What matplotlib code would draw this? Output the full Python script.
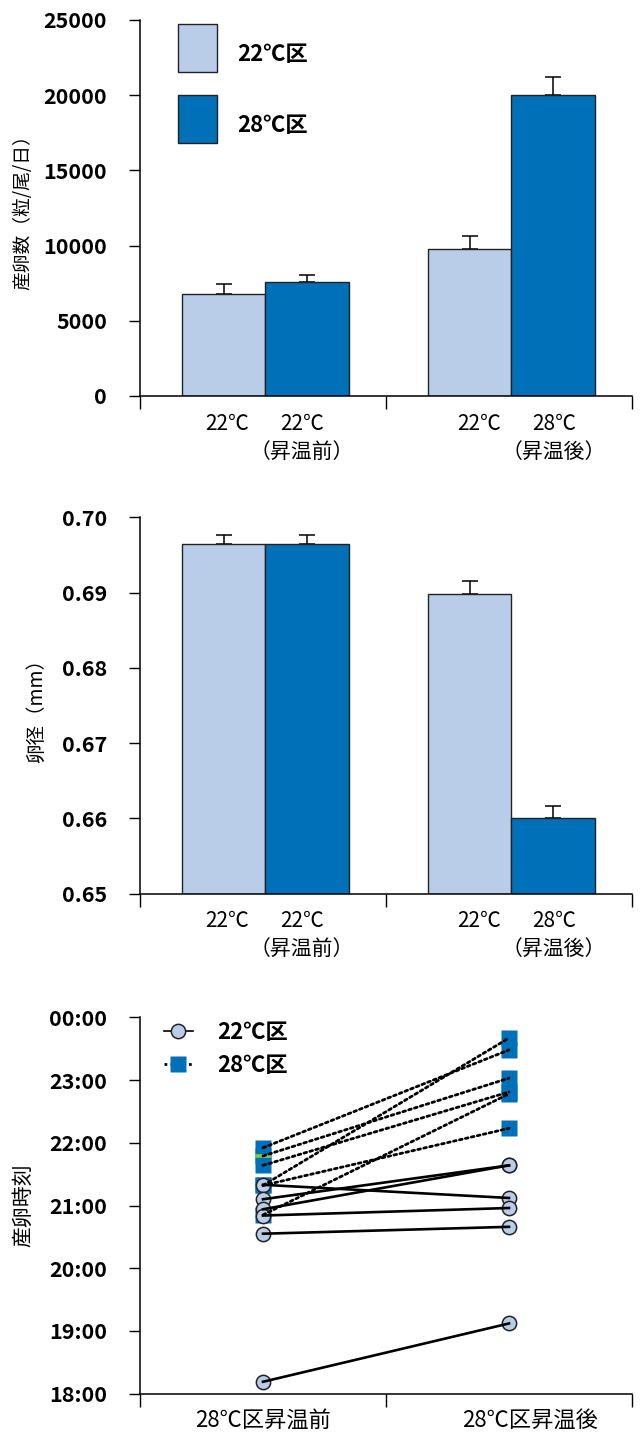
import numpy as np
import matplotlib
matplotlib.use("Agg")
import matplotlib.pyplot as plt
import matplotlib.transforms as mtransforms
from matplotlib.patches import Patch
from matplotlib.lines import Line2D
from matplotlib.legend_handler import HandlerLine2D
from matplotlib.ticker import FuncFormatter

plt.rcParams['font.family'] = ['Noto Sans CJK JP', 'DejaVu Sans']

# ---- data ----
groups = ['22℃区', '28℃区']
bar_labels_top = ['22℃', '22℃', '22℃', '28℃']
period_labels = ['（昇温前）', '（昇温後）']

eggs_22 = [6780, 9750]
eggs_22_err = [665, 886]
eggs_28 = [7600, 20000]
eggs_28_err = [465, 1180]

diam_22 = [0.6965, 0.6898]
diam_22_err = [0.0012, 0.0018]
diam_28 = [0.6965, 0.6600]
diam_28_err = [0.0011, 0.0017]

time_labels = ['28℃区昇温前', '28℃区昇温後']
# spawning time in hours (24 = midnight)
t22_before = [21.33, 21.10, 20.94, 20.84, 20.55, 18.19]
t22_after = [21.12, 21.64, 21.64, 20.96, 20.66, 19.12]
t28_before = [21.92, 21.79, 21.64, 21.32, 21.32, 20.85]
t28_after = [23.48, 23.03, 22.81, 23.67, 22.23, 22.78]
t28_flag = 21.79

LIGHT = '#b9cde8'
DARK = '#0070b9'
EDGE = '#222222'

W, H = 644, 1432
fig = plt.figure(figsize=(W / 100, H / 100), dpi=100)


def axes_px(top, bottom, left=140, right=632):
    return fig.add_axes([left / W, 1 - bottom / H, (right - left) / W, (bottom - top) / H])


def style_axes(ax):
    for s in ['top', 'right']:
        ax.spines[s].set_visible(False)
    ax.spines['left'].set_linewidth(1.1)
    ax.spines['bottom'].set_linewidth(1.1)
    ax.set_xlim(0, 2)
    ax.set_xticks([0, 1, 2])
    ax.set_xticklabels([])
    ax.tick_params(axis='x', direction='out', length=9.6, width=1.0)
    ax.tick_params(axis='y', direction='out', length=7.7, width=1.0, pad=16,
                   labelsize=15.5)
    for lab in ax.get_yticklabels():
        lab.set_fontweight('bold')


def set_ylabel(ax, text, size, x_px):
    ax.set_ylabel(text, fontsize=size)
    ax.yaxis.label.set_va('center')
    ax.yaxis.set_label_coords(-(140 - x_px) / 492, 0.5)


def under_label(ax, x, text, off_pt, size=15):
    ax.annotate(text, xy=(x, 0), xycoords=('data', 'axes fraction'),
                xytext=(0, -off_pt), textcoords='offset points',
                ha='center', va='center', fontsize=size)


def shift_legend_texts(leg, dy_pt):
    for t in leg.get_texts():
        t.set_fontweight('bold')
        t.set_transform(t.get_transform() +
                        mtransforms.ScaledTranslation(0, dy_pt / 72, fig.dpi_scale_trans))


bar_w = 0.34
pos_light = np.array([0.34, 1.34])
pos_dark = pos_light + bar_w
label_x = [0.354, 0.659, 1.38, 1.683]


def bar_panel(ax, v22, e22, v28, e28, base=0.0):
    kw = dict(width=bar_w, edgecolor=EDGE, linewidth=1.0, zorder=2)
    ekw = dict(fmt='none', ecolor='black', elinewidth=1.1, capsize=5.6,
               capthick=1.1, zorder=1)
    ax.bar(pos_light, np.array(v22) - base, bottom=base, color=LIGHT, **kw)
    ax.bar(pos_dark, np.array(v28) - base, bottom=base, color=DARK, **kw)
    ax.errorbar(pos_light, v22, yerr=[np.zeros(2), e22], **ekw)
    ax.errorbar(pos_dark, v28, yerr=[np.zeros(2), e28], **ekw)
    for x, t in zip(label_x, bar_labels_top):
        under_label(ax, x, t, 20)
    under_label(ax, label_x[1], period_labels[0], 40)
    under_label(ax, label_x[3], period_labels[1], 40)


# ---- panel 1: egg count ----
ax1 = axes_px(20, 396)
ax1.set_ylim(0, 25000)
ax1.set_yticks(np.arange(0, 25001, 5000))
style_axes(ax1)
bar_panel(ax1, eggs_22, eggs_22_err, eggs_28, eggs_28_err)
set_ylabel(ax1, '産卵数（粒/尾/日）', 13.5, 23)
handles = [Patch(facecolor=LIGHT, edgecolor=EDGE, linewidth=1.0),
           Patch(facecolor=DARK, edgecolor=EDGE, linewidth=1.0)]
leg1 = ax1.legend(handles, groups, loc='upper left', bbox_to_anchor=(38 / 492, 0.99),
                  frameon=False, fontsize=16, handlelength=1.76, handleheight=2.95,
                  labelspacing=1.04, handletextpad=0.9, borderpad=0, borderaxespad=0)
shift_legend_texts(leg1, -4.5)

# ---- panel 2: egg diameter ----
ax2 = axes_px(517.3, 893.7)
ax2.set_ylim(0.65, 0.70)
ax2.set_yticks(np.arange(0.65, 0.7001, 0.01))
ax2.yaxis.set_major_formatter(FuncFormatter(lambda v, p: f'{v:.2f}'))
style_axes(ax2)
bar_panel(ax2, diam_22, diam_22_err, diam_28, diam_28_err, base=0.65)
set_ylabel(ax2, '卵径（mm）', 14, 37)

# ---- panel 3: spawning time ----
ax3 = axes_px(1017.3, 1393.7)
ax3.set_ylim(18, 24)
ax3.set_yticks(np.arange(18, 24.01, 1))
ax3.yaxis.set_major_formatter(FuncFormatter(lambda v, p: f'{int(round(v)) % 24:02d}:00'))
style_axes(ax3)
xb, xa = 0.5, 1.5
ax3.plot([xb] * len(t28_before), t28_before, 's', color=DARK, ms=11.5, mec='none', zorder=2)
ax3.plot([xa] * len(t28_after), t28_after, 's', color=DARK, ms=11.5, mec='none', zorder=2)
ax3.plot([xb], [t28_flag], '_', color='#8cc63f', ms=11.5, mew=2.6, zorder=2.5)
ax3.plot([xb] * len(t22_before), t22_before, 'o', color=LIGHT, ms=10.3, mec=EDGE,
         mew=1.1, zorder=3)
ax3.plot([xa] * len(t22_after), t22_after, 'o', color=LIGHT, ms=10.3, mec=EDGE,
         mew=1.1, zorder=3)
for a, b in zip(t22_before, t22_after):
    ax3.plot([xb, xa], [a, b], '-', color='black', lw=1.9, zorder=4)
for a, b in zip(t28_before, t28_after):
    ax3.plot([xb, xa], [a, b], color='black', lw=2.0, ls=(0, (1, 1.2)),
             dash_capstyle='round', zorder=4)
for x, t in zip([0.5, 1.585], time_labels):
    under_label(ax3, x, t, 19.4, size=16)
set_ylabel(ax3, '産卵時刻', 15, 23)


class EndMarkerHandler(HandlerLine2D):
    def get_xdata(self, legend, xdescent, ydescent, width, height, fontsize):
        xdata = np.array([-xdescent, -xdescent + width])
        return xdata, np.array([-xdescent + width])


h22 = Line2D([], [], color='black', lw=1.2, marker='o', ms=10.3, mfc=LIGHT,
             mec=EDGE, mew=1.1)
h28 = Line2D([], [], color='black', lw=2.0, ls=(0, (1, 1.2)), marker='s', ms=11.5,
             mfc=DARK, mec='none')
leg3 = ax3.legend([h22, h28], groups, loc='upper left',
                  bbox_to_anchor=(24 / 492, 0.99), frameon=False, fontsize=16,
                  handlelength=1.3, handletextpad=1.1, labelspacing=0.45,
                  borderpad=0, borderaxespad=0,
                  handler_map={Line2D: EndMarkerHandler()})
shift_legend_texts(leg3, 0)

fig.savefig('out.png', dpi=100)
